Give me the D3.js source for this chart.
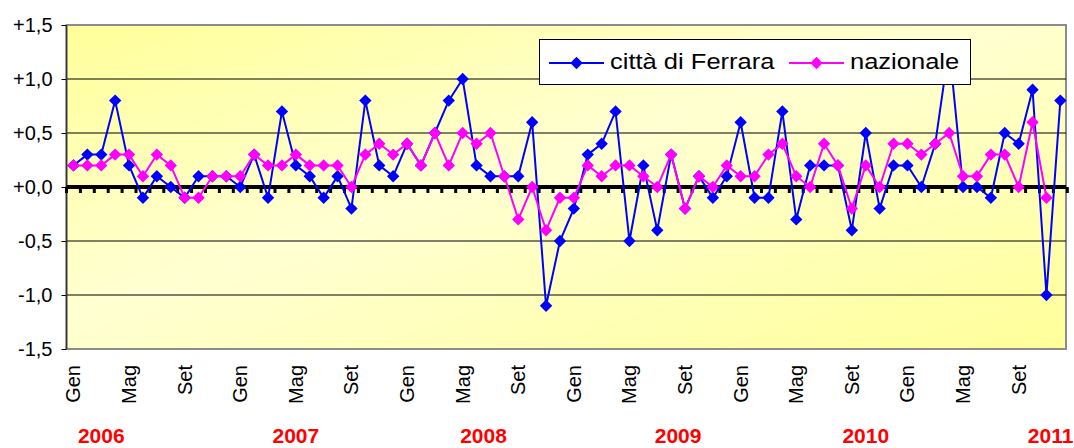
<!DOCTYPE html>
<html><head><meta charset="utf-8">
<script src="https://cdn.jsdelivr.net/npm/d3@7"></script>
<style>
body{margin:0;background:#fff;}
svg{display:block;font-family:"Liberation Sans",Arial,sans-serif;}
</style></head><body>
<svg id="chart" width="1074" height="448"></svg>
<script>
const monthNames = ["Gen","Feb","Mar","Apr","Mag","Giu","Lug","Ago","Set","Ott","Nov","Dic"];
const yearList = [2006, 2007, 2008, 2009, 2010, 2011];
const categories = yearList.flatMap(y => monthNames.map(m => m + " " + y));

const ferrara = [
  0.2, 0.3, 0.3, 0.8, 0.2, -0.1, 0.1, 0.0, -0.1, 0.1, 0.1, 0.1,
  0.0, 0.3, -0.1, 0.7, 0.2, 0.1, -0.1, 0.1, -0.2, 0.8, 0.2, 0.1,
  0.4, 0.2, 0.5, 0.8, 1.0, 0.2, 0.1, 0.1, 0.1, 0.6, -1.1, -0.5,
  -0.2, 0.3, 0.4, 0.7, -0.5, 0.2, -0.4, 0.3, -0.2, 0.1, -0.1, 0.1,
  0.6, -0.1, -0.1, 0.7, -0.3, 0.2, 0.2, 0.2, -0.4, 0.5, -0.2, 0.2,
  0.2, 0.0, 0.4, 1.3, 0.0, 0.0, -0.1, 0.5, 0.4, 0.9, -1.0, 0.8
];
const nazionale = [
  0.2, 0.2, 0.2, 0.3, 0.3, 0.1, 0.3, 0.2, -0.1, -0.1, 0.1, 0.1,
  0.1, 0.3, 0.2, 0.2, 0.3, 0.2, 0.2, 0.2, 0.0, 0.3, 0.4, 0.3,
  0.4, 0.2, 0.5, 0.2, 0.5, 0.4, 0.5, 0.1, -0.3, 0.0, -0.4, -0.1,
  -0.1, 0.2, 0.1, 0.2, 0.2, 0.1, 0.0, 0.3, -0.2, 0.1, 0.0, 0.2,
  0.1, 0.1, 0.3, 0.4, 0.1, 0.0, 0.4, 0.2, -0.2, 0.2, 0.0, 0.4,
  0.4, 0.3, 0.4, 0.5, 0.1, 0.1, 0.3, 0.3, 0.0, 0.6, -0.1, null
];
const seriesNames = ["città di Ferrara", "nazionale"];
const seriesColors = ["#0000FF", "#FF00FF"];
const yTicks = [1.5, 1.0, 0.5, 0.0, -0.5, -1.0, -1.5];
const yTickLabels = ["+1,5", "+1,0", "+0,5", "+0,0", "-0,5", "-1,0", "-1,5"];
const gridValues = [1.0, 0.5, -0.5, -1.0];
const yearLabels = ["2006", "2007", "2008", "2009", "2010", "2011"];
const yearLabelMonth = [2, 16, 29.5, 43.5, 57, 70.3];

const svg = d3.select("#chart");
const plotL = 66.5, plotR = 1066, plotT = 25, plotB = 349;
const x = d3.scaleBand().domain(categories).range([66.5, 66.5 + 72 * 13.9]).padding(0);
const bw = x.bandwidth();
const cx = i => x(categories[i]) + bw / 2;
const xi = v => 66.5 + bw / 2 + v * bw;
const y = d3.scaleLinear().domain([-1.5, 1.5]).range([plotB, plotT]);

// gradient background
const defs = svg.append("defs");
const grad = defs.append("linearGradient").attr("id", "bg")
  .attr("x1", "0").attr("y1", "0").attr("x2", "1").attr("y2", "1");
grad.append("stop").attr("offset", "0%").attr("stop-color", "#FFFF99");
grad.append("stop").attr("offset", "45%").attr("stop-color", "#FFFFD2");
grad.append("stop").attr("offset", "100%").attr("stop-color", "#FFFF99");

svg.append("rect").attr("x", plotL).attr("y", plotT)
  .attr("width", plotR - plotL).attr("height", plotB - plotT)
  .attr("fill", "url(#bg)").attr("stroke", "#8c8c8c").attr("stroke-width", 2);

// gridlines
svg.append("g").selectAll("line").data(gridValues).join("line")
  .attr("x1", plotL).attr("x2", plotR)
  .attr("y1", d => y(d)).attr("y2", d => y(d))
  .attr("stroke", "#000").attr("stroke-width", 1);

// left axis
const yAxis = d3.axisLeft(y).tickValues(yTicks)
  .tickFormat((d, i) => yTickLabels[i]).tickSize(5).tickPadding(9);
const gy = svg.append("g").attr("transform", `translate(${plotL},0)`).call(yAxis);
gy.select(".domain").remove();
gy.selectAll(".tick line").attr("stroke", "#000");
gy.selectAll(".tick text").attr("font-size", 20).attr("fill", "#000")
  .attr("font-family", "'Liberation Sans', Arial, sans-serif");
svg.append("line").attr("x1", plotL).attr("x2", plotL).attr("y1", plotT).attr("y2", plotB)
  .attr("stroke", "#333").attr("stroke-width", 1.5);

// zero axis with ticks between categories
const y0 = y(0);
svg.append("g").selectAll("line").data(d3.range(categories.length + 1)).join("line")
  .attr("x1", k => 66.5 + k * bw).attr("x2", k => 66.5 + k * bw)
  .attr("y1", y0).attr("y2", y0 + 6)
  .attr("stroke", "#000").attr("stroke-width", 3);
svg.append("line").attr("x1", plotL).attr("x2", plotR).attr("y1", y0).attr("y2", y0)
  .attr("stroke", "#000").attr("stroke-width", 4);

// month labels
svg.append("g").selectAll("text")
  .data(categories.map((c, i) => ({c, i})).filter(d => d.i % 4 === 0)).join("text")
  .attr("transform", d => `translate(${cx(d.i)},365) rotate(-90)`)
  .attr("text-anchor", "end").attr("dy", "0.35em")
  .attr("font-size", 20).attr("fill", "#000")
  .text(d => d.c.split(" ")[0]);

// year labels
svg.append("g").selectAll("text").data(yearLabels).join("text")
  .attr("x", (d, i) => xi(yearLabelMonth[i])).attr("y", 443)
  .attr("text-anchor", "middle").attr("font-size", 21).attr("font-weight", "bold")
  .attr("fill", "#FF0000").text(d => d);

// series
const diamond = "M0,-6.2L6.2,0L0,6.2L-6.2,0Z";
const line = d3.line().defined(d => d != null).x((d, i) => cx(i)).y(d => y(d));
[ferrara, nazionale].forEach((series, s) => {
  const g = svg.append("g");
  g.append("path").datum(series).attr("d", line)
    .attr("fill", "none").attr("stroke", seriesColors[s]).attr("stroke-width", 2);
  g.selectAll("path.m").data(series.map((v, i) => ({v, i})).filter(d => d.v != null))
    .join("path").attr("class", "m")
    .attr("d", diamond)
    .attr("transform", d => `translate(${cx(d.i)},${y(d.v)})`)
    .attr("fill", seriesColors[s]);
});

// legend
const lg = svg.append("g");
lg.append("rect").attr("x", 539.5).attr("y", 39.5).attr("width", 431).attr("height", 45)
  .attr("fill", "#fff").attr("stroke", "#000").attr("stroke-width", 1);
const legendItems = [
  {name: seriesNames[0], color: seriesColors[0], x0: 549},
  {name: seriesNames[1], color: seriesColors[1], x0: 789}
];
legendItems.forEach(it => {
  lg.append("line").attr("x1", it.x0).attr("x2", it.x0 + 55).attr("y1", 63).attr("y2", 63)
    .attr("stroke", it.color).attr("stroke-width", 2);
  lg.append("path").attr("d", diamond).attr("transform", `translate(${it.x0 + 27.5},63)`)
    .attr("fill", it.color);
  lg.append("text").attr("transform", `translate(${it.x0 + 61},69) scale(1.16,1)`)
    .attr("font-size", 22).attr("fill", "#000").text(it.name);
});
</script>
</body></html>
